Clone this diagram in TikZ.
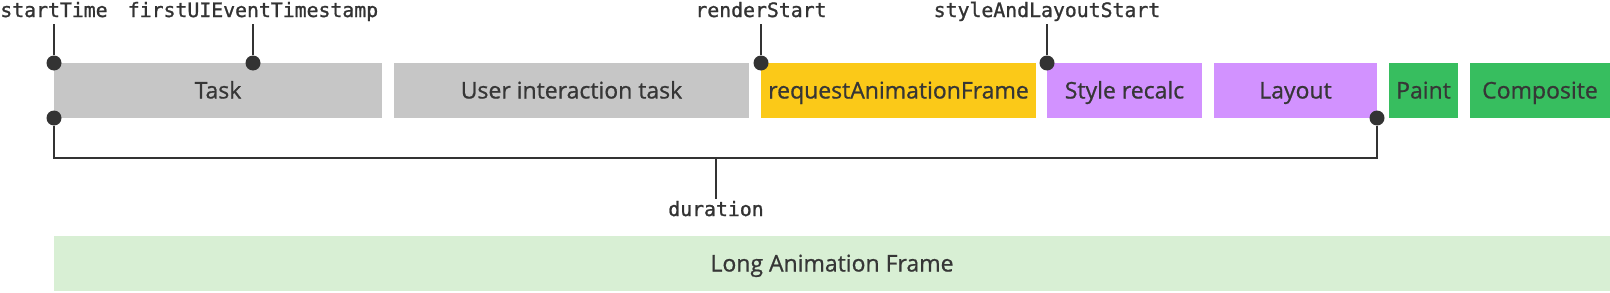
\documentclass[tikz,border=0pt]{standalone}
\usepackage{fontspec}
\setmainfont{Open Sans}
\newfontfamily\phasefont[FakeBold=0.8]{Open Sans}
\newfontfamily\monofont[FakeBold=1.2]{DejaVu Sans Mono}
\usetikzlibrary{positioning}
\definecolor{taskgray}{HTML}{C6C6C6}
\definecolor{rafyellow}{HTML}{FBC918}
\definecolor{layoutpurple}{HTML}{D292FF}
\definecolor{paintgreen}{HTML}{37BE5F}
\definecolor{framegreen}{HTML}{D8EFD4}
\definecolor{ink}{HTML}{333333}
\definecolor{boxtext}{HTML}{363636}
\tikzset{
  phase/.style={
    shape = rectangle,
    inner sep = 0pt,
    minimum height = 55pt,
    text = boxtext,
    text height = 16pt,
    text depth = 0pt,
    font = \phasefont\fontsize{23}{27}\selectfont
  },
  stamp/.style={
    shape = circle,
    inner sep = 0pt,
    minimum size = 15pt,
    fill = ink
  },
  field/.style={
    font = \monofont\fontsize{19.8}{24}\selectfont,
    text = ink,
    text height = 14pt,
    text depth = 4pt,
    inner xsep = 0pt,
    inner ysep = 3pt
  },
  wire/.style={
    draw = ink,
    line width = 2pt
  },
}

\begin{document}
\begin{tikzpicture}[x=1pt,y=-1pt]
\useasboundingbox (0,0) rectangle (1610,292);
% phases of the frame
		  \foreach \n/\cx/\w/\c/\t in {task/218/328/taskgray/Task,
		     user/571.5/355/taskgray/User interaction task,
		     raf/898.5/275/rafyellow/requestAnimationFrame,
		     style/1124.5/155/layoutpurple/Style recalc,
		     layout/1295.5/163/layoutpurple/Layout,
		     paint/1423.5/69/paintgreen/Paint,
		     comp/1540/140/paintgreen/Composite}{
		    \node[phase, fill=\c, minimum width=\w pt] (\n) at (\cx,90.5) {\t}; }
\node[phase, fill=framegreen, minimum width=1556pt] (laf) at (832,263.5) {Long Animation Frame};
% timestamps
		  \foreach \n/\x/\t in {start/54/startTime, first/253/firstUIEventTimestamp,
		     render/761/renderStart, sal/1047/styleAndLayoutStart}{
		    \node[stamp] (d-\n) at (\x,63) {};
		    \node[field] (l-\n) at (\x,12) {\t};
		     \draw[wire] (d-\n) -- (l-\n); }
% duration bracket
\node[stamp] (d-begin) at (54,118) {};
\node[stamp] (d-end) at (1377,118) {};
\coordinate (bar) at (54,158);
\draw[wire] (d-begin) -- (bar) -| (d-end);
\node[field] (l-dur) at (716,211) {duration};
\draw[wire] (l-dur) -- (l-dur |- bar);
\end{tikzpicture}
\end{document}
